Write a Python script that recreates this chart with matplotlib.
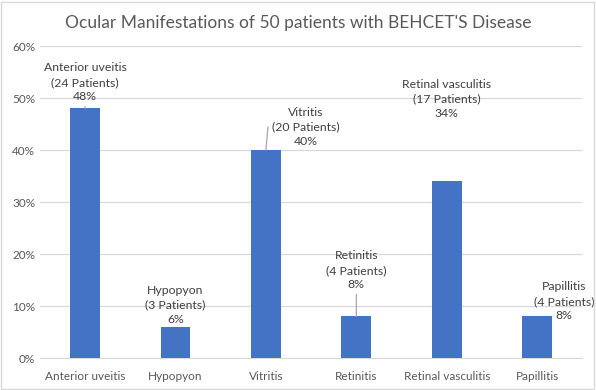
import matplotlib.pyplot as plt
from matplotlib.patches import Rectangle
from matplotlib.ticker import PercentFormatter

plt.rcParams['font.family'] = ['Lato', 'DejaVu Sans']

categories = ['Anterior uveitis', 'Hypopyon', 'Vitritis', 'Retinitis',
              'Retinal vasculitis', 'Papillitis']
patients = [24, 3, 20, 4, 17, 4]
percent = [48, 6, 40, 8, 34, 8]

# label offsets from bar top (pixels), and whether a leader line is drawn
offsets = [(0, 6), (0, 2), (40, 3), (0, 26), (0, 62), (27, -5)]
leaders = [True, False, True, True, False, False]

fig = plt.figure(figsize=(5.96, 3.9), dpi=100)
ax = fig.add_axes([0.067, 0.082, 0.91, 0.8])

x = range(len(categories))
bars = ax.bar(x, percent, width=0.33, color='#4472C4', zorder=3)

ax.set_ylim(0, 60)
ax.set_xlim(-0.5, len(categories) - 0.5)
ax.set_yticks(range(0, 61, 10))
ax.yaxis.set_major_formatter(PercentFormatter(decimals=0))
ax.set_xticks(list(x))
ax.set_xticklabels(categories)
ax.tick_params(axis='both', length=0, labelsize=8.5, colors='#595959')
ax.tick_params(axis='x', pad=9)
ax.grid(axis='y', color='#D9D9D9', linewidth=0.9, zorder=0)
for s in ['top', 'right', 'left']:
    ax.spines[s].set_visible(False)
ax.spines['bottom'].set_color('#D9D9D9')

for i in x:
    txt = f"{categories[i]}\n({patients[i]} Patients)\n{percent[i]}%"
    dx, dy = offsets[i]
    ap = None
    if leaders[i]:
        if i == 2:
            ap = dict(arrowstyle='-', color='#A6A6A6', lw=0.9, shrinkA=1, shrinkB=0,
                      relpos=(0.0, 0.5), connectionstyle='angle,angleA=180,angleB=85,rad=0')
        else:
            ap = dict(arrowstyle='-', color='#A6A6A6', lw=0.9, shrinkA=1, shrinkB=0,
                      relpos=(0.5, 0.0))
    ax.annotate(txt, xy=(i, percent[i]), xytext=(dx, dy), textcoords='offset pixels',
                ha='center', va='bottom', fontsize=8.8, color='#404040',
                linespacing=1.4, arrowprops=ap, zorder=4)

fig.suptitle("Ocular Manifestations of 50 patients with BEHCET'S Disease",
             y=0.962, fontsize=12.5, color='#595959')

fig.patches.append(Rectangle((0.002, 0.003), 0.995, 0.993, transform=fig.transFigure,
                             fill=False, edgecolor='#D9D9D9', linewidth=1))

fig.savefig('out.png', dpi=100)
